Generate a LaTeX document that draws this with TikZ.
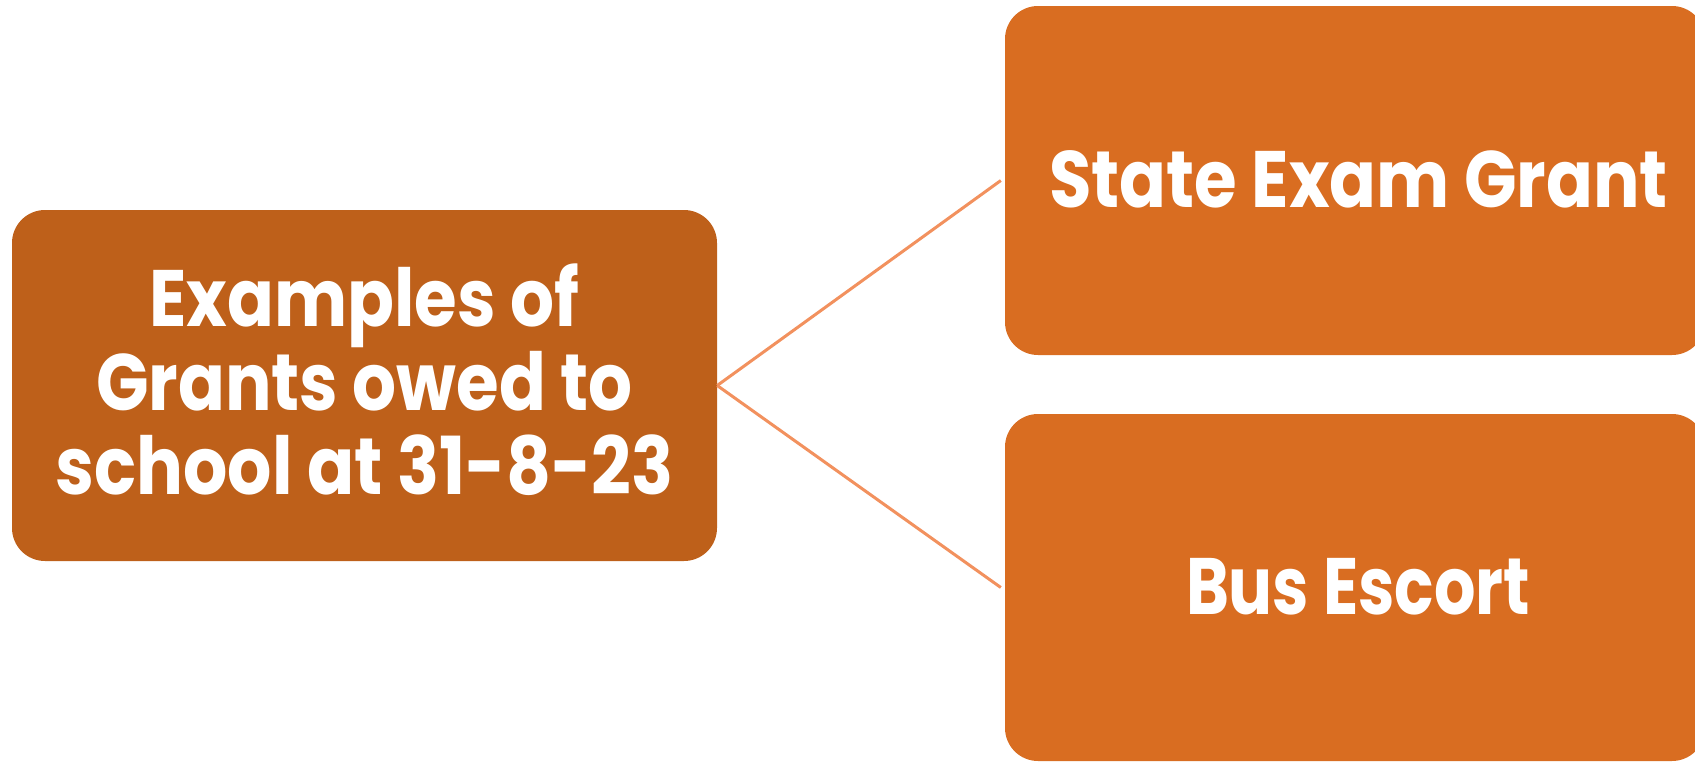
\documentclass[tikz,border=0pt]{standalone}
\usepackage{fontspec}
\usepackage{graphicx}
\newfontfamily\gfont{Poppins}
\definecolor{darkbox}{RGB}{190,96,26}
\definecolor{lightbox}{RGB}{217,109,33}
\definecolor{linkline}{RGB}{242,145,94}
\newcommand{\lblfont}{\gfont\bfseries\fontsize{80}{84}\selectfont}
\newcommand{\fitw}[2]{\resizebox{#1}{\height}{#2}}
\newlength{\refw}
\settowidth{\refw}{\lblfont State Exam Grant}
\pgfmathsetmacro{\hfac}{619/(\refw/1pt)}
\newcommand{\sq}[1]{\scalebox{\hfac}[1]{#1}}
\begin{document}
\begin{tikzpicture}[x=1pt,y=-1pt,
  box/.style={rounded corners=33pt, inner sep=0pt, draw=none},
  lbl/.style={text=white, font=\lblfont, inner sep=0pt, align=center},
  link/.style={draw=linkline, line width=3pt}]
\useasboundingbox (0,0) rectangle (1695,763);
\begin{scope}
\clip (0,0) rectangle (1695,763);
\node[box, fill=darkbox, minimum width=705pt, minimum height=351pt] (root) at (364.5,385.5) {};
\node[box, fill=lightbox, minimum width=700pt, minimum height=349pt] (top) at (1355,180.5) {};
\node[box, fill=lightbox, minimum width=700pt, minimum height=347pt] (bot) at (1355,587.5) {};
\end{scope}
\draw[link] (root.east) -- ([xshift=-4pt]top.west);
\draw[link] (root.east) -- ([xshift=-4pt]bot.west);
\node[lbl, anchor=base] (roottext) at (364.5,494) {\sq{Examples of}\\\sq{Grants owed to}\\\fitw{618pt}{school at 31-8-23}};
\node[lbl, anchor=base] (toptext) at (1358.5,207) {\fitw{619pt}{State Exam Grant}};
\node[lbl, anchor=base] (bottext) at (1358,614) {\fitw{344pt}{Bus Escort}};
\end{tikzpicture}
\end{document}
